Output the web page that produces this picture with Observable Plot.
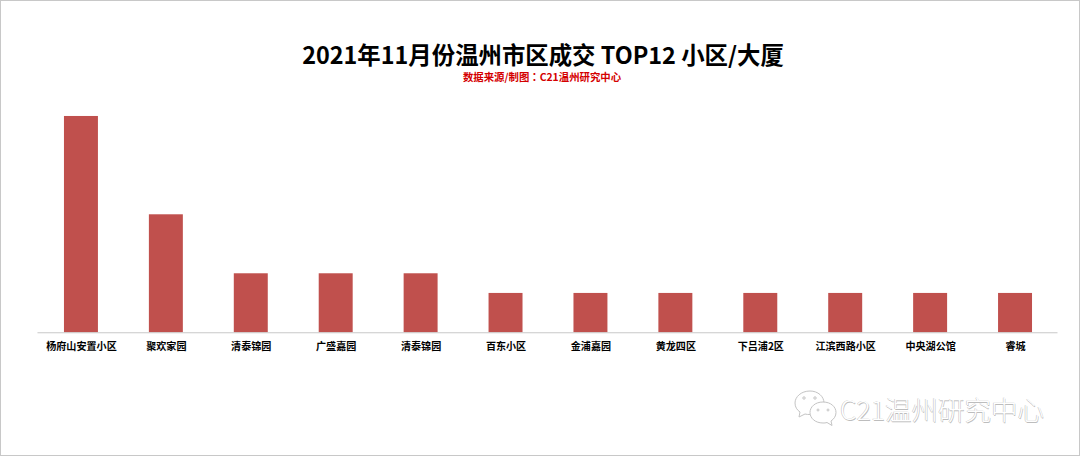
<!DOCTYPE html>
<html>
<head>
<meta charset="utf-8">
<script src="https://cdn.jsdelivr.net/npm/d3@7"></script>
<script src="https://cdn.jsdelivr.net/npm/@observablehq/plot@0.6"></script>
<style>
html,body{margin:0;padding:0;background:#fff;}
#page{position:relative;width:1080px;height:456px;box-sizing:border-box;border:1px solid #c8c8c8;overflow:hidden;font-family:"Noto Sans CJK SC",sans-serif;}
#title{position:absolute;left:0;top:36.500px;width:1080px;text-align:center;font-size:23.400px;font-weight:700;line-height:32px;height:30px;color:#000;margin-left:2px;white-space:nowrap;}
#sub{position:absolute;left:0;top:68.500px;width:1080px;text-align:center;font-size:10.400px;font-weight:700;line-height:14px;color:#d40000;margin-left:1px;white-space:nowrap;}
#sub span{font-family:"Noto Sans CJK TC",sans-serif;}
#chart{position:absolute;left:-1px;top:88px;}
#chart svg{display:block;}
#mark{position:absolute;left:839px;top:391px;font-size:26.500px;line-height:34px;color:#fff;white-space:nowrap;
 text-shadow:-0.5px -0.5px 0 #bdbdbd,0.6px 0.6px 0 #bdbdbd;font-family:"Noto Sans CJK SC",sans-serif;font-weight:300;}
#icon{position:absolute;left:792px;top:388px;}
</style>
</head>
<body>
<div id="page">
<div id="title">2021年11月份温州市区成交 TOP12 小区/大厦</div>
<div id="sub">数据来源/制图<span>：</span>C21温州研究中心</div>
<div id="chart"></div>
<svg id="icon" width="44" height="40" viewBox="0 0 44 40" fill="#fff" stroke="#c4c4c4" stroke-width="1">
<path d="M17 2C8 2 2 8 2 14c0 4 2 7 5 9l-1 5 6-3c2 .5 3 .5 5 .5 8 0 14-5 14-11.500S25 2 17 2z"/>
<path d="M30 13c-8 0-13 5-13 10.500S22 34 30 34c1.500 0 2.500 0 4-.5l5 3-1-4.500c3-2 5-5 5-8.500C43 18 38 13 30 13z"/>
<circle cx="11" cy="9" r="1.200"/><circle cx="22" cy="9" r="1.200"/>
<circle cx="25" cy="21" r="1"/><circle cx="35" cy="21" r="1"/>
</svg>
<div id="mark">C21温州研究中心</div>
</div>
<script>
const names = ["杨府山安置小区","聚欢家园","清泰锦园","广盛嘉园","清泰锦园","百东小区","金浦嘉园","黄龙四区","下吕浦2区","江滨西路小区","中央湖公馆","睿城"];
const counts = [11,6,3,3,3,2,2,2,2,2,2,2];
const order = names.map((_,i)=>i);

const plot = Plot.plot({
  width:1080,
  height:290,
  marginTop:27,marginBottom:46.500,marginLeft:37.500,marginRight:21.500,
  style:{background:"transparent",fontFamily:'"Noto Sans CJK SC",sans-serif'},
  x:{domain:order,paddingInner:0.6,paddingOuter:0.3,align:0.5,axis:null},
  y:{domain:[0,11],axis:null},
  marks:[
    Plot.barY(order,{x:d=>d,y:d=>counts[d],fill:"#c0504d"}),
    Plot.ruleY([0],{stroke:"#c8c8c8",strokeWidth:1}),
    Plot.axisX({domain:order,anchor:"bottom",tickSize:0,tickPadding:0,label:null,
      tickFormat:i=>names[i],fontSize:10.100,fontWeight:700,fill:"#000",
      y:0,dy:14.500,textAnchor:"middle",lineAnchor:"middle"})
  ]
});
document.getElementById("chart").appendChild(plot);
</script>
</body>
</html>
